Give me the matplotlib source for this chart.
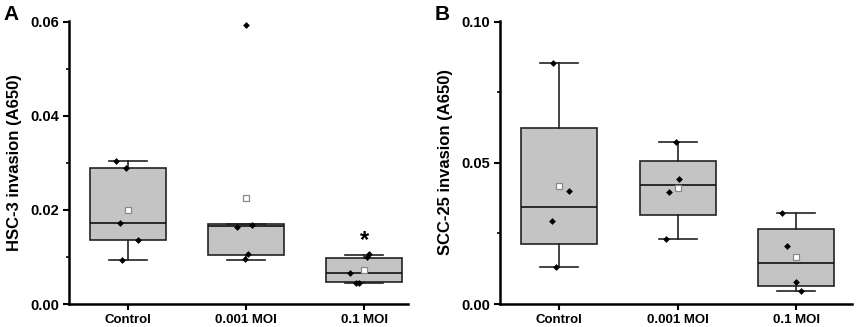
import numpy as np
import matplotlib
matplotlib.use('Agg')
import matplotlib.pyplot as plt
from matplotlib.ticker import MultipleLocator

plt.rcParams['font.family'] = ['Liberation Sans', 'DejaVu Sans']
plt.rcParams['font.weight'] = 'bold'

groups = ['Control', '0.001 MOI', '0.1 MOI']

# panel A : HSC-3
a_points = [[0.0305, 0.0290, 0.0173, 0.0137, 0.0093],
            [0.0594, 0.0163, 0.0169, 0.0106, 0.0095],
            [0.0106, 0.0099, 0.0065, 0.0044, 0.0045]]
a_jitter = [[-0.10, -0.02, -0.065, 0.085, -0.05],
            [0.0, -0.076, 0.048, 0.014, -0.014],
            [0.037, 0.023, -0.12, -0.07, -0.048]]
a_q1 = [0.0137, 0.0105, 0.0046]
a_med = [0.0173, 0.0165, 0.0065]
a_q3 = [0.0290, 0.0170, 0.0098]
a_lo = [0.0093, 0.0093, 0.0044]
a_hi = [0.0305, 0.0170, 0.0105]
a_mean = [0.0199, 0.0226, 0.0073]

# panel B : SCC-25
b_points = [[0.0853, 0.0399, 0.0293, 0.0130],
            [0.0574, 0.0442, 0.0397, 0.0232],
            [0.0324, 0.0207, 0.0079, 0.0046]]
b_jitter = [[-0.05, 0.085, -0.065, -0.025],
            [-0.014, 0.014, -0.076, -0.099],
            [-0.12, -0.076, 0.0, 0.037]]
b_q1 = [0.0211, 0.0317, 0.0064]
b_med = [0.0344, 0.0420, 0.0144]
b_q3 = [0.0625, 0.0508, 0.0266]
b_lo = [0.0130, 0.0232, 0.0046]
b_hi = [0.0853, 0.0574, 0.0324]
b_mean = [0.0418, 0.0411, 0.0165]


def draw_panel(ax, points, jitter, q1, med, q3, lo, hi, mean, ylabel, ymax, major, minor, xmax):
    stats = []
    for i in range(3):
        stats.append(dict(q1=q1[i], med=med[i], q3=q3[i], whislo=lo[i], whishi=hi[i],
                          mean=mean[i], fliers=[]))
    ax.bxp(stats, positions=[1, 2, 3], widths=0.64, patch_artist=True, showmeans=True,
           showfliers=False,
           boxprops=dict(facecolor='#c4c4c4', edgecolor='#222222', linewidth=1.2),
           medianprops=dict(color='#111111', linewidth=1.2),
           whiskerprops=dict(color='#222222', linewidth=1.2),
           capprops=dict(color='#222222', linewidth=1.2),
           capwidths=0.32,
           meanprops=dict(marker='s', markerfacecolor='white', markeredgecolor='#888888',
                          markersize=4, markeredgewidth=0.9))
    for i in range(3):
        xs = np.full(len(points[i]), i + 1.0) + np.array(jitter[i])
        ax.scatter(xs, points[i], marker='D', s=12, color='black', zorder=5, linewidths=0)
    ax.set_xlim(0.5, xmax)
    ax.set_ylim(0, ymax)
    ax.set_xticks([1, 2, 3])
    ax.set_xticklabels(groups, fontsize=9.5, fontweight='bold')
    ax.yaxis.set_major_locator(MultipleLocator(major))
    ax.yaxis.set_minor_locator(MultipleLocator(minor))
    ax.yaxis.set_major_formatter(plt.FormatStrFormatter('%.2f'))
    for lab in ax.get_yticklabels():
        lab.set_fontweight('bold')
        lab.set_fontsize(10.5)
    ax.set_ylabel(ylabel, fontsize=12, fontweight='bold', labelpad=6)
    ax.spines['top'].set_visible(False)
    ax.spines['right'].set_visible(False)
    ax.spines['left'].set_linewidth(1.8)
    ax.spines['bottom'].set_linewidth(1.8)
    ax.tick_params(axis='both', which='major', direction='out', length=4, width=1.5, pad=3)
    ax.tick_params(axis='y', which='minor', direction='out', length=2.5, width=1.2)


fig = plt.figure(figsize=(8.58, 3.27), dpi=100)
axA = fig.add_axes([0.0804, 0.0703, 0.3951, 0.866])
axB = fig.add_axes([0.5828, 0.0703, 0.4102, 0.866])

draw_panel(axA, a_points, a_jitter, a_q1, a_med, a_q3, a_lo, a_hi, a_mean,
           'HSC-3 invasion (A650)', 0.0602, 0.02, 0.01, 3.37)
draw_panel(axB, b_points, b_jitter, b_q1, b_med, b_q3, b_lo, b_hi, b_mean,
           'SCC-25 invasion (A650)', 0.1003, 0.05, 0.025, 3.47)

axA.text(3, 0.0134, '*', ha='center', va='center', fontsize=17, fontweight='bold')

fig.text(0.004, 0.985, 'A', fontsize=15, fontweight='bold', va='top', ha='left')
fig.text(0.507, 0.985, 'B', fontsize=15, fontweight='bold', va='top', ha='left')

fig.savefig('out.png', dpi=100)
